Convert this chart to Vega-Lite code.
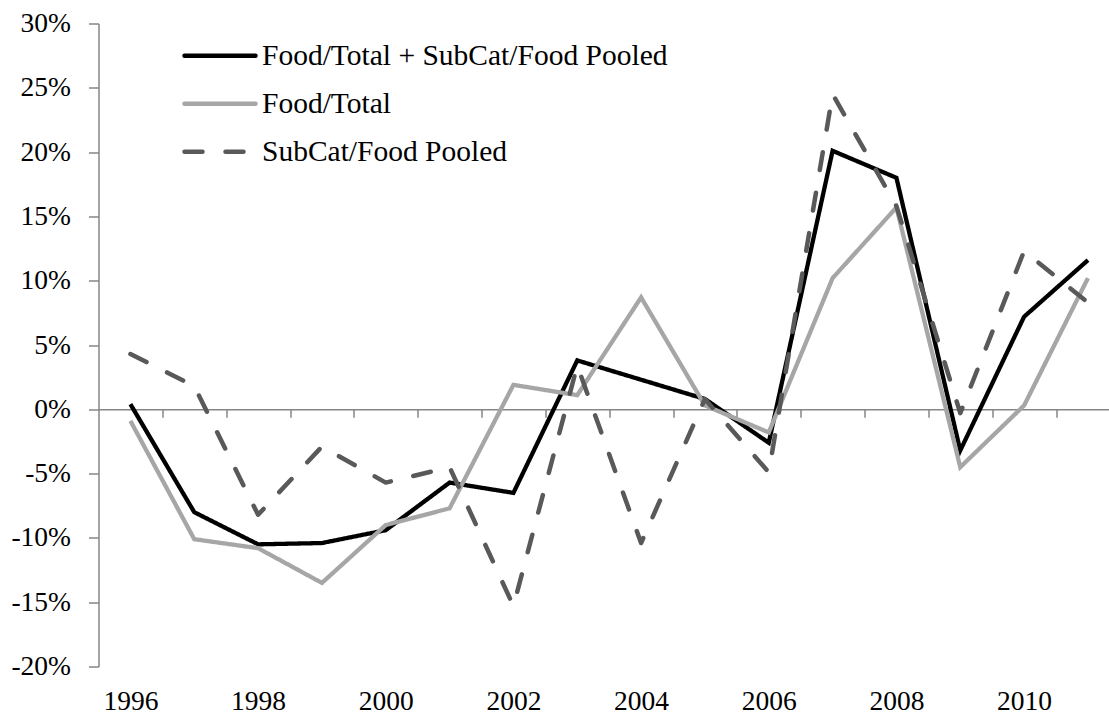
{
  "$schema": "https://vega.github.io/schema/vega-lite/v6.json",
  "width": 1010.5,
  "height": 643,
  "autosize": {"type": "none"},
  "padding": {"left": 98.5, "top": 23.5, "right": 0, "bottom": 48.5},
  "background": "white",
  "config": {"view": {"stroke": null}, "font": "Liberation Serif"},
  "data": {
    "values": [
      {"year": 1996, "series": "Food/Total + SubCat/Food Pooled", "value": 0.4},
      {"year": 1997, "series": "Food/Total + SubCat/Food Pooled", "value": -8.0},
      {"year": 1998, "series": "Food/Total + SubCat/Food Pooled", "value": -10.5},
      {"year": 1999, "series": "Food/Total + SubCat/Food Pooled", "value": -10.4},
      {"year": 2000, "series": "Food/Total + SubCat/Food Pooled", "value": -9.4},
      {"year": 2001, "series": "Food/Total + SubCat/Food Pooled", "value": -5.7},
      {"year": 2002, "series": "Food/Total + SubCat/Food Pooled", "value": -6.5},
      {"year": 2003, "series": "Food/Total + SubCat/Food Pooled", "value": 3.8},
      {"year": 2004, "series": "Food/Total + SubCat/Food Pooled", "value": 2.3},
      {"year": 2005, "series": "Food/Total + SubCat/Food Pooled", "value": 0.8},
      {"year": 2006, "series": "Food/Total + SubCat/Food Pooled", "value": -2.6},
      {"year": 2007, "series": "Food/Total + SubCat/Food Pooled", "value": 20.1},
      {"year": 2008, "series": "Food/Total + SubCat/Food Pooled", "value": 18.0},
      {"year": 2009, "series": "Food/Total + SubCat/Food Pooled", "value": -3.2},
      {"year": 2010, "series": "Food/Total + SubCat/Food Pooled", "value": 7.2},
      {"year": 2011, "series": "Food/Total + SubCat/Food Pooled", "value": 11.6},
      {"year": 1996, "series": "Food/Total", "value": -0.9},
      {"year": 1997, "series": "Food/Total", "value": -10.1},
      {"year": 1998, "series": "Food/Total", "value": -10.8},
      {"year": 1999, "series": "Food/Total", "value": -13.5},
      {"year": 2000, "series": "Food/Total", "value": -9.0},
      {"year": 2001, "series": "Food/Total", "value": -7.7},
      {"year": 2002, "series": "Food/Total", "value": 1.9},
      {"year": 2003, "series": "Food/Total", "value": 1.1},
      {"year": 2004, "series": "Food/Total", "value": 8.7},
      {"year": 2005, "series": "Food/Total", "value": 0.3},
      {"year": 2006, "series": "Food/Total", "value": -1.8},
      {"year": 2007, "series": "Food/Total", "value": 10.2},
      {"year": 2008, "series": "Food/Total", "value": 15.7},
      {"year": 2009, "series": "Food/Total", "value": -4.5},
      {"year": 2010, "series": "Food/Total", "value": 0.3},
      {"year": 2011, "series": "Food/Total", "value": 10.2},
      {"year": 1996, "series": "SubCat/Food Pooled", "value": 4.3},
      {"year": 1997, "series": "SubCat/Food Pooled", "value": 1.8},
      {"year": 1998, "series": "SubCat/Food Pooled", "value": -8.2},
      {"year": 1999, "series": "SubCat/Food Pooled", "value": -2.9},
      {"year": 2000, "series": "SubCat/Food Pooled", "value": -5.7},
      {"year": 2001, "series": "SubCat/Food Pooled", "value": -4.5},
      {"year": 2002, "series": "SubCat/Food Pooled", "value": -15.3},
      {"year": 2003, "series": "SubCat/Food Pooled", "value": 3.4},
      {"year": 2004, "series": "SubCat/Food Pooled", "value": -10.4},
      {"year": 2005, "series": "SubCat/Food Pooled", "value": 0.8},
      {"year": 2006, "series": "SubCat/Food Pooled", "value": -4.9},
      {"year": 2007, "series": "SubCat/Food Pooled", "value": 24.5},
      {"year": 2008, "series": "SubCat/Food Pooled", "value": 15.8},
      {"year": 2009, "series": "SubCat/Food Pooled", "value": -0.3},
      {"year": 2010, "series": "SubCat/Food Pooled", "value": 12.3},
      {"year": 2011, "series": "SubCat/Food Pooled", "value": 8.3}
    ]
  },
  "encoding": {
    "y": {
      "field": "value", "type": "quantitative",
      "scale": {"domain": [-20, 30], "nice": false, "zero": false},
      "axis": {
        "values": [-20, -15, -10, -5, 0, 5, 10, 15, 20, 25, 30],
        "labelExpr": "datum.value + '%'",
        "labelFont": "Liberation Serif", "labelFontSize": 27.5, "labelColor": "#000000",
        "domainColor": "#868686", "domainWidth": 1.5,
        "tickColor": "#868686", "tickWidth": 1.5, "tickSize": 10,
        "labelPadding": 18, "grid": false, "title": null
      }
    },
    "color": {
      "field": "series", "type": "nominal",
      "scale": {
        "domain": ["Food/Total + SubCat/Food Pooled", "Food/Total", "SubCat/Food Pooled"],
        "range": ["#000000", "#a6a6a6", "#595959"]
      },
      "legend": {
        "title": null, "orient": "none", "legendX": 83.5, "legendY": 8.5,
        "padding": 0, "symbolType": "stroke", "symbolSize": 5041, "symbolStrokeWidth": 4.5,
        "labelFont": "Liberation Serif", "labelFontSize": 29.5, "labelColor": "#000000",
        "labelOffset": 4, "rowPadding": 0, "clipHeight": 47.5, "labelLimit": 0,
        "encode": {"symbols": {"update": {"strokeCap": {"value": "round"}}}}
      }
    },
    "strokeDash": {
      "field": "series", "type": "nominal",
      "scale": {
        "domain": ["Food/Total + SubCat/Food Pooled", "Food/Total", "SubCat/Food Pooled"],
        "range": [[1, 0], [1, 0], [18, 23]]
      },
      "legend": {
        "title": null, "orient": "none", "legendX": 83.5, "legendY": 8.5,
        "padding": 0, "symbolType": "stroke", "symbolSize": 5041, "symbolStrokeWidth": 4.5,
        "labelFont": "Liberation Serif", "labelFontSize": 29.5, "labelColor": "#000000",
        "labelOffset": 4, "rowPadding": 0, "clipHeight": 47.5, "labelLimit": 0,
        "encode": {"symbols": {"update": {"strokeCap": {"value": "round"}}}}
      }
    }
  },
  "layer": [
    {
      "transform": [{"filter": "datum.series === 'Food/Total + SubCat/Food Pooled'"}],
      "mark": {"type": "line", "strokeWidth": 4.3, "strokeJoin": "miter"},
      "encoding": {
        "x": {
          "field": "year", "type": "quantitative",
          "scale": {"domain": [1995.5, 2011.33], "nice": false, "zero": false},
          "axis": {
            "orient": "bottom",
            "values": [1996, 1998, 2000, 2002, 2004, 2006, 2008, 2010],
            "format": "d", "labelFont": "Liberation Serif", "labelFontSize": 27.5,
            "labelColor": "#000000", "labelPadding": 21,
            "domain": false, "ticks": false, "grid": false, "title": null
          }
        }
      }
    },
    {
      "transform": [{"filter": "datum.series === 'Food/Total'"}],
      "mark": {"type": "line", "strokeWidth": 4.3, "strokeJoin": "miter"},
      "encoding": {
        "x": {
          "field": "year", "type": "quantitative",
          "scale": {"domain": [1995.5, 2011.33], "nice": false, "zero": false},
          "axis": {
            "orient": "bottom", "offset": -257.2,
            "values": [1996.5, 1997.5, 1998.5, 1999.5, 2000.5, 2001.5, 2002.5, 2003.5, 2004.5, 2005.5, 2006.5, 2007.5, 2008.5, 2009.5, 2010.5],
            "labels": false, "domain": true, "domainColor": "#868686", "domainWidth": 1.5,
            "ticks": true, "tickColor": "#868686", "tickWidth": 1.5, "tickSize": 8,
            "grid": false, "title": null
          }
        }
      }
    },
    {
      "transform": [{"filter": "datum.series === 'SubCat/Food Pooled'"}],
      "mark": {"type": "line", "strokeWidth": 4.5, "strokeCap": "round", "strokeJoin": "round"},
      "encoding": {
        "x": {
          "field": "year", "type": "quantitative",
          "scale": {"domain": [1995.5, 2011.33], "nice": false, "zero": false},
          "axis": null
        }
      }
    }
  ],
  "resolve": {"axis": {"x": "independent"}}
}
